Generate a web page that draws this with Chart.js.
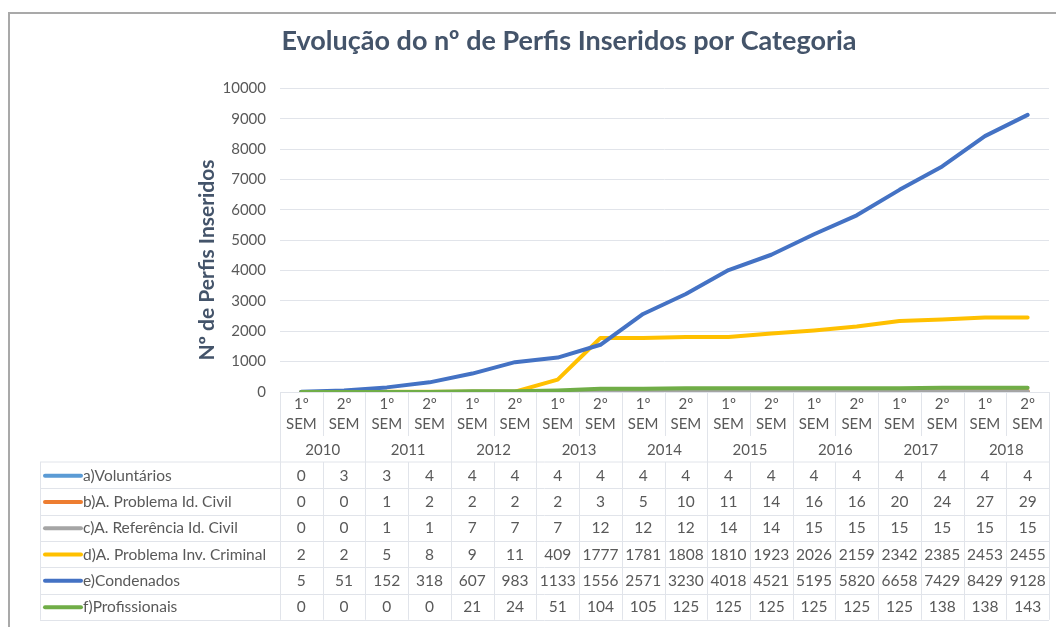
<!DOCTYPE html>
<html>
<head>
<meta charset="utf-8">
<script src="https://cdn.jsdelivr.net/npm/chart.js@4.4.1/dist/chart.umd.min.js"></script>
<style>
  body { margin: 0; background: #fff; }
  #wrap { position: relative; width: 1056px; height: 627px; }
  #frame { position: absolute; left: 8px; top: 12px; right: -4px; bottom: -4px;
           border-top: 2px solid #a9a9a9; border-left: 2px solid #a9a9a9; }
  #chart { position: absolute; left: 0; top: 0; }
</style>
</head>
<body>
<div id="wrap">
  <div id="frame"></div>
  <canvas id="chart" width="1056" height="627"></canvas>
</div>
<script>
const years = ['2010', '2011', '2012', '2013', '2014', '2015', '2016', '2017', '2018'];
const semesters = ['1º', '2º'];
const categories = years.flatMap((y) => semesters.map((s) => s + ' SEM ' + y));

const seriesNames = [
    'a)Voluntários',
    'b)A. Problema Id. Civil',
    'c)A. Referência Id. Civil',
    'd)A. Problema Inv. Criminal',
    'e)Condenados',
    'f)Profissionais',
];
const seriesColors = ['#5B9BD5', '#ED7D31', '#A5A5A5', '#FFC000', '#4472C4', '#70AD47'];

const voluntarios = [0, 3, 3, 4, 4, 4, 4, 4, 4, 4, 4, 4, 4, 4, 4, 4, 4, 4];
const problemaIdCivil = [0, 0, 1, 2, 2, 2, 2, 3, 5, 10, 11, 14, 16, 16, 20, 24, 27, 29];
const referenciaIdCivil = [0, 0, 1, 1, 7, 7, 7, 12, 12, 12, 14, 14, 15, 15, 15, 15, 15, 15];
const problemaInvCriminal = [2, 2, 5, 8, 9, 11, 409, 1777, 1781, 1808, 1810, 1923, 2026, 2159, 2342, 2385, 2453, 2455];
const condenados = [5, 51, 152, 318, 607, 983, 1133, 1556, 2571, 3230, 4018, 4521, 5195, 5820, 6658, 7429, 8429, 9128];
const profissionais = [0, 0, 0, 0, 21, 24, 51, 104, 105, 125, 125, 125, 125, 125, 125, 138, 138, 143];

const seriesData = [voluntarios, problemaIdCivil, referenciaIdCivil, problemaInvCriminal, condenados, profissionais];

const yTicks = [0, 1000, 2000, 3000, 4000, 5000, 6000, 7000, 8000, 9000, 10000];
const yTitle = 'Nº de Perfis Inseridos';

const FONT = 'Lato, "Open Sans", sans-serif';
const TEXT = '#595959';
const LINE = '#e1e4ea';

// draws the Excel-like data table under the plot, columns taken from the x scale
const dataTable = {
    id: 'dataTable',
    afterDraw(chart) {
        const { ctx, chartArea, scales } = chart;
        const x = scales.x;
        const left = chartArea.left;
        const right = chartArea.right;
        const colW = (right - left) / categories.length;
        const top = chartArea.bottom;
        const bodyTop = top + 70;
        const rowH = 26.3;
        const tableLeft = 40;
        const bottom = bodyTop + rowH * seriesData.length;

        ctx.save();
        // axis title, sits a bit lower than the plot centre as in the original
        ctx.save();
        ctx.translate(207, 260);
        ctx.rotate(-Math.PI / 2);
        ctx.fillStyle = '#44546A';
        ctx.font = 'bold 21px ' + FONT;
        ctx.textAlign = 'center';
        ctx.textBaseline = 'middle';
        ctx.fillText(yTitle, 0, 0);
        ctx.restore();

        ctx.strokeStyle = LINE;
        ctx.lineWidth = 1;
        ctx.beginPath();
        ctx.moveTo(tableLeft, bodyTop); ctx.lineTo(right, bodyTop);
        for (let r = 1; r <= seriesData.length; r++) {
            const yy = Math.round(bodyTop + rowH * r) + 0.5;
            ctx.moveTo(tableLeft, yy); ctx.lineTo(right, yy);
        }
        ctx.moveTo(tableLeft + 0.5, bodyTop); ctx.lineTo(tableLeft + 0.5, bottom);
        for (let c = 0; c <= categories.length; c++) {
            const xx = Math.round(left + colW * c) + 0.5;
            if (c % 2 === 0) {
                ctx.moveTo(xx, top); ctx.lineTo(xx, bottom);
            } else {
                ctx.moveTo(xx, top); ctx.lineTo(xx, top + 44);
                ctx.moveTo(xx, bodyTop); ctx.lineTo(xx, bottom);
            }
        }
        ctx.stroke();

        ctx.fillStyle = TEXT;
        ctx.font = '15px ' + FONT;
        ctx.textAlign = 'center';
        ctx.textBaseline = 'middle';
        categories.forEach((cat, i) => {
            const cx = x.getPixelForValue(i);
            ctx.fillText(semesters[i % 2], cx, top + 12);
            ctx.fillText('SEM', cx, top + 32);
        });
        years.forEach((yr, j) => {
            const cx = (x.getPixelForValue(2 * j) + x.getPixelForValue(2 * j + 1)) / 2;
            ctx.fillText(yr, cx, top + 58);
        });

        ctx.font = '15.5px ' + FONT;
        seriesData.forEach((vals, r) => {
            const cy = bodyTop + rowH * r + rowH / 2 + 0.5;
            vals.forEach((v, i) => {
                ctx.fillText(String(v), x.getPixelForValue(i), cy);
            });
            ctx.save();
            ctx.strokeStyle = seriesColors[r];
            ctx.lineWidth = 4;
            ctx.lineCap = 'round';
            ctx.beginPath();
            ctx.moveTo(45, cy); ctx.lineTo(81, cy);
            ctx.stroke();
            ctx.restore();
            ctx.textAlign = 'left';
            ctx.fillText(seriesNames[r], 83, cy);
            ctx.textAlign = 'center';
        });
        ctx.restore();
    },
};

const datasets = seriesData.map((vals, i) => ({
    label: seriesNames[i],
    data: vals,
    borderColor: seriesColors[i],
    backgroundColor: seriesColors[i],
    borderWidth: 4,
    pointRadius: 0,
    borderCapStyle: 'round',
    borderJoinStyle: 'round',
    tension: 0,
    fill: false,
    order: seriesData.length - i,
}));

new Chart(document.getElementById('chart').getContext('2d'), {
    type: 'line',
    data: { labels: categories, datasets: datasets },
    options: {
        responsive: false,
        animation: false,
        layout: { padding: { left: 89, right: 7, top: 25, bottom: 235 } },
        plugins: {
            legend: { display: false },
            tooltip: { enabled: false },
            title: {
                display: true,
                text: 'Evolução do nº de Perfis Inseridos por Categoria',
                color: '#44546A',
                font: { family: FONT, size: 27, weight: 'bold' },
                padding: { top: 0, bottom: 31 },
            },
        },
        scales: {
            x: {
                type: 'category',
                display: false,
                offset: true,
            },
            y: {
                min: 0,
                max: 10000,
                afterBuildTicks: (scale) => {
                    scale.ticks = yTicks.map((v) => ({ value: v }));
                },
                afterFit: (scale) => {
                    scale.width = 191;
                },
                border: { display: false },
                grid: { color: LINE, lineWidth: 1, drawTicks: false },
                ticks: {
                    padding: 14,
                    color: TEXT,
                    font: { family: FONT, size: 15 },
                    callback: (v) => String(v),
                },
            },
        },
    },
    plugins: [dataTable],
});
</script>
</body>
</html>
